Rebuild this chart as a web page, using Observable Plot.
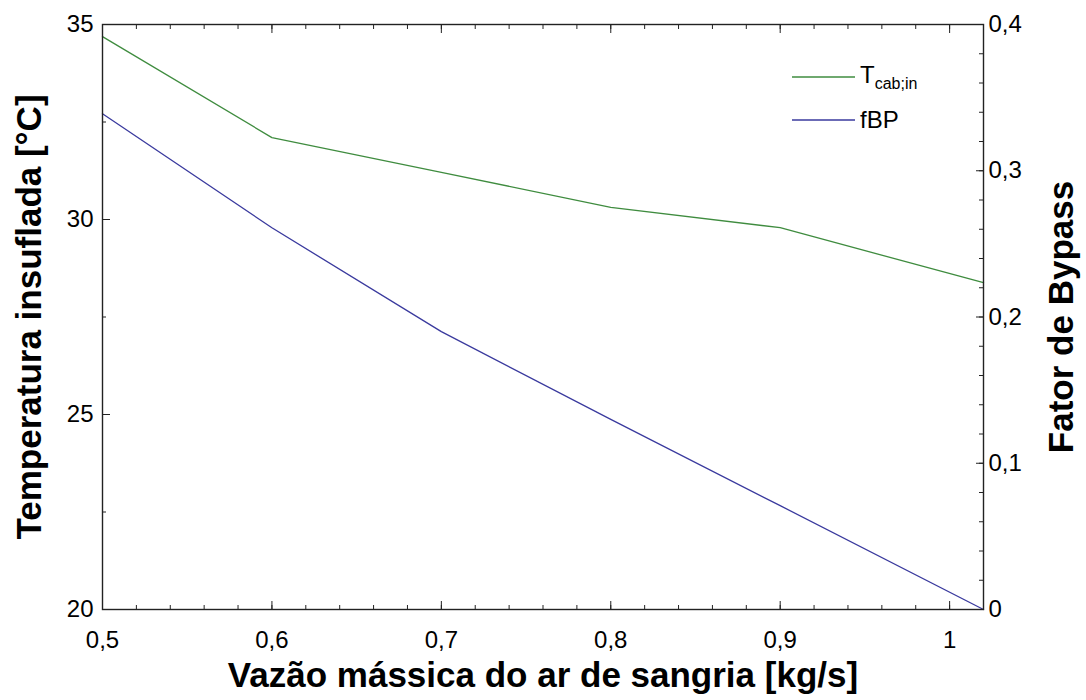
<!DOCTYPE html>
<html>
<head>
<meta charset="utf-8">
<script src="https://cdn.jsdelivr.net/npm/d3@7"></script>
<script src="https://cdn.jsdelivr.net/npm/@observablehq/plot@0.6"></script>
<style>
  html, body { margin: 0; padding: 0; background: #fff; }
  #chart { position: relative; width: 1086px; height: 700px; font-family: "Liberation Sans", Arial, sans-serif; }
  .legend { position: absolute; left: 792px; top: 0; }
  .legend .row { position: absolute; left: 0; display: flex; align-items: center; white-space: nowrap; font-size: 24px; color: #000; }
  .legend svg { display: block; margin-right: 5px; }
  .legend sub { font-size: 16px; vertical-align: -6px; }
</style>
</head>
<body>
<div id="chart"></div>
<script>
// Bleed-air mass flow [kg/s]
const flow = [0.5, 0.6, 0.7, 0.8, 0.9, 1.02];
// Supply (cabin inlet) temperature [°C], left axis
const tCabIn = [34.69, 32.10, 31.21, 30.31, 29.79, 28.38];
// Bypass factor, right axis
const fBP = [0.339, 0.261, 0.190, 0.130, 0.071, 0];

// Axis ticks
const xMajor = [0.5, 0.6, 0.7, 0.8, 0.9, 1];
const xMinor = d3.range(0.5, 1.0201, 0.02).map(v => +v.toFixed(2));
const yLeftMajor = [20, 25, 30, 35];
const yLeftMinor = [22.5, 27.5, 32.5];
const yRightMajor = [0, 0.1, 0.2, 0.3, 0.4];
const yRightMinor = d3.range(0, 0.4001, 0.02).map(v => +v.toFixed(2));

const seriesColors = { tCabIn: "#3f8c3f", fBP: "#3a3a9e" };

// The bypass factor (0–0.4) shares the plot's y scale (20–35)
const leftMin = 20, leftMax = 35, rightMin = 0, rightMax = 0.4;
const toLeft = v => leftMin + (v - rightMin) / (rightMax - rightMin) * (leftMax - leftMin);
const toRight = y => rightMin + (y - leftMin) / (leftMax - leftMin) * (rightMax - rightMin);

const comma = v => String(Math.round(v * 100) / 100).replace(".", ",");

const tRows = flow.map((x, i) => ({ x, y: tCabIn[i] }));
const bRows = flow.map((x, i) => ({ x, y: toLeft(fBP[i]) }));

const blank = () => "";
const tickFont = 24;
const titleStyle = { text: d => d, fontSize: 35, fontWeight: "bold", fill: "#000", textAnchor: "middle" };

const chart = Plot.plot({
  width: 1086,
  height: 700,
  marginLeft: 102,
  marginRight: 103,
  marginTop: 24,
  marginBottom: 91,
  style: { fontFamily: "'Liberation Sans', Arial, sans-serif", fontSize: tickFont + "px", color: "#000", background: "#fff" },
  x: { domain: [0.5, 1.02] },
  y: { domain: [leftMin, leftMax] },
  marks: [
    // tick labels
    Plot.axisX(xMajor, { anchor: "bottom", tickSize: 0, tickPadding: 21, tickFormat: comma, label: null, fontSize: tickFont }),
    Plot.axisY(yLeftMajor, { anchor: "left", tickSize: 0, tickPadding: 9, tickFormat: comma, label: null, fontSize: tickFont }),
    Plot.axisY(yRightMajor.map(toLeft), { anchor: "right", tickSize: 0, tickPadding: 5, tickFormat: y => comma(toRight(y)), label: null, fontSize: tickFont }),
    // inward tick marks
    Plot.axisX(xMajor, { anchor: "bottom", tickSize: -8, tickFormat: blank, label: null, stroke: "#222" }),
    Plot.axisX(xMinor, { anchor: "bottom", tickSize: -4, tickFormat: blank, label: null, stroke: "#222" }),
    Plot.axisX(xMajor, { anchor: "top", tickSize: -8, tickFormat: blank, label: null, stroke: "#222" }),
    Plot.axisX(xMinor, { anchor: "top", tickSize: -4, tickFormat: blank, label: null, stroke: "#222" }),
    Plot.axisY(yLeftMajor, { anchor: "left", tickSize: -8, tickFormat: blank, label: null, stroke: "#222" }),
    Plot.axisY(yLeftMinor, { anchor: "left", tickSize: -4, tickFormat: blank, label: null, stroke: "#222" }),
    Plot.axisY(yRightMajor.map(toLeft), { anchor: "right", tickSize: -8, tickFormat: blank, label: null, stroke: "#222" }),
    Plot.axisY(yRightMinor.map(toLeft), { anchor: "right", tickSize: -5, tickFormat: blank, label: null, stroke: "#222" }),
    // series
    Plot.line(tRows, { x: "x", y: "y", stroke: seriesColors.tCabIn, strokeWidth: 1.3 }),
    Plot.line(bRows, { x: "x", y: "y", stroke: seriesColors.fBP, strokeWidth: 1.3 }),
    Plot.frame({ stroke: "#222", strokeWidth: 1.4 }),
    // axis titles
    Plot.text(["Vazão mássica do ar de sangria [kg/s]"], { ...titleStyle, frameAnchor: "bottom", dy: 77 }),
    Plot.text(["Temperatura insuflada [°C]"], { ...titleStyle, frameAnchor: "left", dx: -73, rotate: -90 }),
    Plot.text(["Fator de Bypass"], { ...titleStyle, frameAnchor: "right", dx: 78, rotate: -90 })
  ]
});

const root = document.getElementById("chart");
root.appendChild(chart);

// Legend inside the plot area
const legendItems = [
  { key: "tCabIn", html: "T<sub>cab;in</sub>", top: 77 },
  { key: "fBP", html: "fBP", top: 120 }
];
const legend = document.createElement("div");
legend.className = "legend";
for (const item of legendItems) {
  const row = document.createElement("div");
  row.className = "row";
  row.style.top = (item.top - 14) + "px";
  row.style.height = "28px";
  row.innerHTML = `<svg width="63" height="4"><line x1="0" y1="2" x2="63" y2="2" stroke="${seriesColors[item.key]}" stroke-width="1.3"/></svg><span>${item.html}</span>`;
  legend.appendChild(row);
}
root.appendChild(legend);
</script>
</body>
</html>
